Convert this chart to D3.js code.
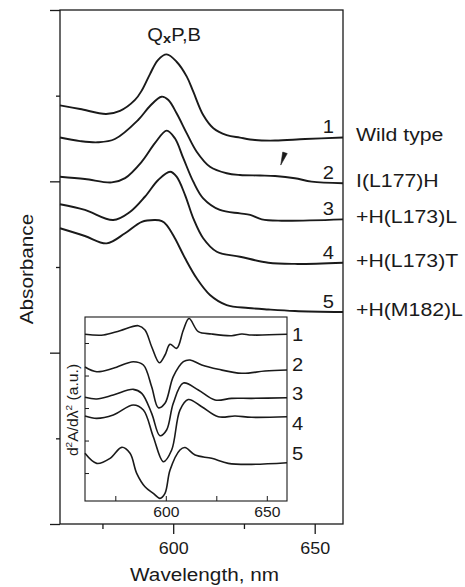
<!DOCTYPE html>
<meta charset="utf-8">
<script src="https://d3js.org/d3.v7.min.js"></script>
<style>
	body{
		margin:0;
		background:#fff;
	}
	text{
		font-family: 'Liberation Sans', Arial, sans-serif;
		fill:#1a1a1a;
	}
</style>
<div id="chart"></div>
<script>
// main panel: [wavelength nm, absorbance (curves offset, a.u.)]
var wildType = [[560,2.443],[567.1,2.422],[576.3,2.393],[581.2,2.411],[586.5,2.475],[589,2.533],[591.8,2.626],[594.6,2.708],[597.7,2.741],[601.2,2.698],[604.8,2.611],[607.1,2.523],[610.6,2.387],[614.2,2.31],[618.9,2.27],[623.6,2.255],[628.9,2.241],[636,2.238],[646.6,2.247],[660,2.256]]
var mutL177 = [[560,2.256],[567.1,2.235],[573.4,2.228],[579.4,2.247],[587.6,2.358],[591.8,2.44],[595.9,2.494],[598.3,2.475],[601.2,2.397],[604.8,2.28],[608.3,2.173],[613,2.085],[618.9,2.047],[623.6,2.037],[630.7,2.034],[636,2.031],[643,2.018],[648.9,1.998],[660,1.989]]
var mutL173L = [[560,2.027],[568.8,2.014],[578.3,1.994],[583,2.019],[588.9,2.115],[593.6,2.224],[597.7,2.296],[600.6,2.251],[603.6,2.134],[607.1,1.998],[610.6,1.901],[616.5,1.833],[623.6,1.813],[627.2,1.804],[631.3,1.778],[638.3,1.77],[660,1.778]]
var mutL173T = [[560,1.866],[568.8,1.833],[578.8,1.774],[584.7,1.821],[590,1.91],[594.7,2.008],[598.9,2.056],[601.2,2.027],[604.2,1.92],[607.1,1.784],[610.6,1.668],[615.4,1.589],[623.6,1.56],[633.6,1.525],[643,1.518],[660,1.525]]
var mutM182 = [[560,1.726],[568.8,1.681],[576.5,1.638],[583,1.697],[588.9,1.764],[593.6,1.774],[596,1.768],[597.7,1.745],[600.6,1.668],[604.2,1.551],[608.3,1.434],[613,1.337],[618.9,1.278],[626.5,1.261],[633.6,1.252],[643,1.243],[660,1.237]]

// inset: [wavelength nm, second derivative (offset, a.u.)]
var d2Wild = [[560,5.268],[569.1,5.246],[577.3,5.378],[586.4,5.532],[589.7,5.4],[593,4.886],[596.8,4.394],[599.6,4.631],[602.1,4.96],[605.4,4.837],[608.7,5.4],[611.5,5.754],[616.1,5.348],[622.7,5.277],[632.6,5.225],[637.6,5.277],[642.5,5.246],[660,5.268]]
var d2L177 = [[560,4.262],[565.8,4.117],[574,4.222],[583.9,4.425],[588.9,4.323],[593,3.655],[596.3,3.009],[599.6,3.145],[603.7,3.963],[608.7,4.425],[612,4.477],[617.8,4.323],[626,4.191],[637.6,4.068],[649.1,4.138],[660,4.169]]
var d2L173L = [[560,3.329],[565.8,3.277],[574,3.4],[583.9,3.575],[588.1,3.452],[593,2.837],[597.1,2.148],[600.4,2.323],[603.7,3.145],[608.7,3.769],[616.1,3.554],[624.4,3.246],[632.6,3.298],[642.5,3.298],[660,3.317]]
var d2L173T = [[560,2.754],[565.8,2.683],[574,2.785],[583.9,3.092],[588.9,2.938],[593.8,2.117],[598.8,1.348],[602.9,1.708],[607,2.938],[611.1,3.262],[617.8,3.04],[626,2.732],[634.3,2.754],[642.5,2.714],[660,2.732]]
var d2M182 = [[560,1.606],[565.8,1.298],[572.4,1.452],[578.2,1.791],[582.3,1.606],[585.6,0.991],[589.7,0.578],[593.8,0.375],[597.1,0.222],[599.6,0.375],[602.1,1.092],[607,1.708],[609.5,1.785],[614.5,1.554],[622.7,1.452],[630.9,1.298],[642.5,1.268],[660,1.317]]

var curveNumbers = ["1","2","3","4","5"]
var mutantNames = ["Wild type","I(L177)H","+H(L173)L","+H(L173)T","+H(M182)L"]
var xMajorTicks = [600,650]
var xMinorTicks = [575,625]
var yMajorTicks = [0,1,2,3]
var yMinorTicks = [0.5,1.5,2.5]
var insetXTicks = [575,600,625,650]
var insetXLabels = [600,650]
var insetYTicks = [1,2,3,4,5]
var arrowTip = [638,2.095]

var mainCurves = [wildType,mutL177,mutL173L,mutL173T,mutM182]
var insetCurves = [d2Wild,d2L177,d2L173L,d2L173T,d2M182]

var W = 465, H = 587
var SX = 1.12 // the figure's lettering is a bit wider than Arial
var ink = "#1a1a1a"

var svg = d3.select("#chart").append("svg").attr("width",W).attr("height",H)

var x = d3.scaleLinear().domain([560,660]).range([60,343])
var y = d3.scaleLinear().domain([0,3]).range([524,10])

function addText(g, str, px, py, size, anchor, rotate){
	var t = "translate("+px+","+py+")"
	if(rotate) t += " rotate(-90)"
	t += " scale("+SX+",1)"
	return g.append("text").attr("transform",t)
		.attr("font-size",size+"px")
		.attr("text-anchor",anchor||"start")
		.text(str)
}

function styleAxis(g){
	g.selectAll("path,line").attr("stroke",ink).attr("stroke-width",1.3)
	g.selectAll("text").attr("transform","scale("+SX+",1)").attr("fill",ink).attr("font-family",null)
}

// frame
svg.append("rect").attr("x",x.range()[0]).attr("y",y.range()[1])
	.attr("width",x.range()[1]-x.range()[0]).attr("height",y.range()[0]-y.range()[1])
	.attr("fill","none").attr("stroke",ink).attr("stroke-width",1.3)

// axes
var gx = svg.append("g").attr("transform","translate(0,"+y(0)+")")
gx.call(d3.axisBottom(x).tickValues(xMajorTicks).tickSizeInner(10).tickSizeOuter(0).tickPadding(9))
	.attr("font-size",16)
gx.select(".domain").remove()
styleAxis(gx)
var gx2 = svg.append("g").attr("transform","translate(0,"+y(0)+")")
gx2.call(d3.axisBottom(x).tickValues(xMinorTicks).tickSize(5).tickFormat(""))
gx2.select(".domain").remove()
styleAxis(gx2)

var gy = svg.append("g").attr("transform","translate("+x(560)+",0)")
gy.call(d3.axisLeft(y).tickValues(yMajorTicks).tickSize(10).tickFormat(""))
gy.select(".domain").remove()
styleAxis(gy)
var gy2 = svg.append("g").attr("transform","translate("+x(560)+",0)")
gy2.call(d3.axisLeft(y).tickValues(yMinorTicks).tickSize(4).tickFormat(""))
gy2.select(".domain").remove()
styleAxis(gy2)

addText(svg,"Wavelength, nm",(x.range()[0]+x.range()[1])/2+3,581,18.5,"middle")
addText(svg,"Absorbance",33,(y.range()[0]+y.range()[1])/2+2,18.5,"middle",true)

// title
var title = svg.append("text").attr("transform","translate("+(x(600)+1)+",41) scale("+SX+",1)")
	.attr("font-size","18px").attr("text-anchor","middle")
title.append("tspan").text("Q")
title.append("tspan").attr("font-size","13px").attr("font-weight","bold").attr("dy",2).text("x")
title.append("tspan").attr("dy",-2).text("P,B")

// main spectra
var line = d3.line().x(function(d){return x(d[0])}).y(function(d){return y(d[1])})
	.curve(d3.curveCatmullRom.alpha(0.5))

svg.append("g").selectAll("path").data(mainCurves).join("path")
	.attr("d",line).attr("fill","none").attr("stroke",ink).attr("stroke-width",1.9)

mainCurves.forEach(function(c,i){
	var endY = y(c[c.length-1][1])
	addText(svg,curveNumbers[i],334,endY-4,18,"end")
	addText(svg,mutantNames[i],356,endY+4,19,"start")
})

// small arrow
var tip = [x(arrowTip[0]),y(arrowTip[1])]
svg.append("path")
	.attr("d","M"+tip[0]+","+tip[1]+"l2,-13l4.5,1.5z")
	.attr("fill",ink).attr("stroke",ink).attr("stroke-width",0.6)

// inset
var ix = d3.scaleLinear().domain([560,660]).range([85,287])
var iy = d3.scaleLinear().domain([0.14,5.8]).range([501,317])
var inset = svg.append("g")

inset.append("rect").attr("x",ix.range()[0]).attr("y",iy.range()[1])
	.attr("width",ix.range()[1]-ix.range()[0]).attr("height",iy.range()[0]-iy.range()[1])
	.attr("fill","#fff").attr("stroke",ink).attr("stroke-width",1.1)

var igx = inset.append("g").attr("transform","translate(0,"+iy.range()[0]+")")
igx.call(d3.axisBottom(ix).tickValues(insetXTicks).tickSizeInner(-5).tickSizeOuter(0).tickPadding(6)
	.tickFormat(function(d){return insetXLabels.indexOf(d)>=0 ? d : ""}))
	.attr("font-size",14)
igx.select(".domain").remove()
styleAxis(igx)
igx.selectAll("line").attr("stroke-width",1)

var igy = inset.append("g").attr("transform","translate("+ix.range()[0]+",0)")
igy.call(d3.axisLeft(iy).tickValues(insetYTicks).tickSizeInner(-4).tickSizeOuter(0).tickFormat(""))
igy.select(".domain").remove()
styleAxis(igy)
igy.selectAll("line").attr("stroke-width",1)

var iline = d3.line().x(function(d){return ix(d[0])}).y(function(d){return iy(d[1])})
	.curve(d3.curveCatmullRom.alpha(0.5))

inset.append("g").selectAll("path").data(insetCurves).join("path")
	.attr("d",iline).attr("fill","none").attr("stroke",ink).attr("stroke-width",1.6)

curveNumbers.forEach(function(n,i){
	addText(inset,n,292,341+i*29.7,18,"start")
})

var ylab = inset.append("text")
	.attr("transform","translate(78,"+((iy.range()[0]+iy.range()[1])/2+1)+") rotate(-90) scale("+SX+",1)")
	.attr("font-size","14px").attr("text-anchor","middle")
ylab.append("tspan").text("d")
ylab.append("tspan").attr("font-size","9px").attr("dy",-6).text("2")
ylab.append("tspan").attr("dy",6).text("A/d\u03bb")
ylab.append("tspan").attr("font-size","9px").attr("dy",-6).text("2")
ylab.append("tspan").attr("dy",6).text(" (a.u.)")
</script>
